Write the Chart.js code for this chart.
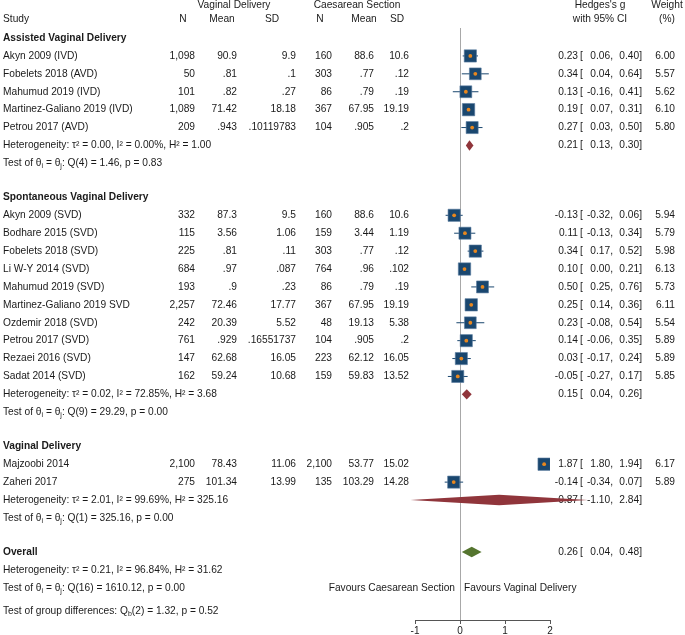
<!DOCTYPE html>
<html>
<head>
<meta charset="utf-8">
<script src="https://cdn.jsdelivr.net/npm/chart.js@4.4.1/dist/chart.umd.min.js"></script>
<style>
  body { margin: 0; background: #fff; }
  canvas { display: block; }
</style>
</head>
<body>
<canvas id="forest" width="685" height="635"></canvas>
<script>
// study level data
const studies = [
  'Akyn 2009 (IVD)', 'Fobelets 2018 (AVD)', 'Mahumud 2019 (IVD)', 'Martinez-Galiano 2019 (IVD)', 'Petrou 2017 (AVD)',
  'Akyn 2009 (SVD)', 'Bodhare 2015 (SVD)', 'Fobelets 2018 (SVD)', 'Li W-Y 2014 (SVD)', 'Mahumud 2019 (SVD)',
  'Martinez-Galiano 2019 SVD', 'Ozdemir 2018 (SVD)', 'Petrou 2017 (SVD)', 'Rezaei 2016 (SVD)', 'Sadat 2014 (SVD)',
  'Majzoobi 2014', 'Zaheri 2017'
];
const studyGroup = [0, 0, 0, 0, 0, 1, 1, 1, 1, 1, 1, 1, 1, 1, 1, 2, 2];

const vdN    = [1098, 50, 101, 1089, 209, 332, 115, 225, 684, 193, 2257, 242, 761, 147, 162, 2100, 275];
const vdMean = [90.9, 0.81, 0.82, 71.42, 0.943, 87.3, 3.56, 0.81, 0.97, 0.9, 72.46, 20.39, 0.929, 62.68, 59.24, 78.43, 101.34];
const vdSD   = [9.9, 0.1, 0.27, 18.18, 0.10119783, 9.5, 1.06, 0.11, 0.087, 0.23, 17.77, 5.52, 0.16551737, 16.05, 10.68, 11.06, 13.99];
const csN    = [160, 303, 86, 367, 104, 160, 159, 303, 764, 86, 367, 48, 104, 223, 159, 2100, 135];
const csMean = [88.6, 0.77, 0.79, 67.95, 0.905, 88.6, 3.44, 0.77, 0.96, 0.79, 67.95, 19.13, 0.905, 62.12, 59.83, 53.77, 103.29];
const csSD   = [10.6, 0.12, 0.19, 19.19, 0.2, 10.6, 1.19, 0.12, 0.102, 0.19, 19.19, 5.38, 0.2, 16.05, 13.52, 15.02, 14.28];

const hedgesG = [0.23, 0.34, 0.13, 0.19, 0.27, -0.13, 0.11, 0.34, 0.10, 0.50, 0.25, 0.23, 0.14, 0.03, -0.05, 1.87, -0.14];
const ciLow   = [0.06, 0.04, -0.16, 0.07, 0.03, -0.32, -0.13, 0.17, 0.00, 0.25, 0.14, -0.08, -0.06, -0.17, -0.27, 1.80, -0.34];
const ciHigh  = [0.40, 0.64, 0.41, 0.31, 0.50, 0.06, 0.34, 0.52, 0.21, 0.76, 0.36, 0.54, 0.35, 0.24, 0.17, 1.94, 0.07];
const weights = [6.00, 5.57, 5.62, 6.10, 5.80, 5.94, 5.79, 5.98, 6.13, 5.73, 6.11, 5.54, 5.89, 5.89, 5.85, 6.17, 5.89];

// subgroup summaries
const groupNames = ['Assisted Vaginal Delivery', 'Spontaneous Vaginal Delivery', 'Vaginal Delivery'];
const groupG    = [0.21, 0.15, 0.87];
const groupLow  = [0.13, 0.04, -1.10];
const groupHigh = [0.30, 0.26, 2.84];
const groupTau2 = ['0.00', '0.02', '2.01'];
const groupI2   = ['0.00', '72.85', '99.69'];
const groupH2   = ['1.00', '3.68', '325.16'];
const groupQdf  = [4, 9, 1];
const groupQ    = ['1.46', '29.29', '325.16'];
const groupP    = ['0.83', '0.00', '0.00'];

// overall
const overallG = 0.26, overallLow = 0.04, overallHigh = 0.48;
const overallHet = ['0.21', '96.84', '31.62'];
const overallTest = [16, '1610.12', '0.00'];
const groupDiff = [2, '1.32', '0.52'];

const xTicks = [-1, 0, 1, 2];

// row layout (in row units, 1 row = one table line)
const studyRow = [], hetRow = [], testRow = [], headRow = [];
let r = -1;
groupNames.forEach((name, gi) => {
  headRow[gi] = r;
  studies.forEach((s, i) => { if (studyGroup[i] === gi) { r += 1; studyRow[i] = r; } });
  r += 1; hetRow[gi] = r;
  r += 1; testRow[gi] = r;
  r += 1.9;
});
const overallRow = r, overallHetRow = r + 1, overallTestRow = r + 2, diffRow = r + 3.3;

const FONT = '"Liberation Sans", Arial, Helvetica, sans-serif';
const TXT = '#1a1a1a';
const NAVY = '#1a476f';
const ORANGE = '#e8871e';
const COL = { study: 3, vdN: 195, vdMean: 237, vdSD: 296, csN: 332, csMean: 374, csSD: 409,
  est: 578, brk: 580, lo: 613, hi: 642, wt: 675 };

const fmtNum = v => String(v).replace(/^0\./, '.');
const fmtN = v => v.toLocaleString('en-US');

function txt(ctx, s, x, y, align, bold) {
  ctx.font = (bold ? 'bold ' : '') + '10.2px ' + FONT;
  ctx.textAlign = align || 'left';
  ctx.fillText(s, x, y);
}

// left aligned text with {sub:'i'} parts as subscripts
function rich(ctx, parts, x, y) {
  ctx.textAlign = 'left';
  let cx = x;
  parts.forEach(p => {
    const isSub = typeof p !== 'string';
    const t = isSub ? p.sub : p;
    ctx.font = (isSub ? '7px ' : '10.2px ') + FONT;
    ctx.fillText(t, cx, isSub ? y + 3 : y);
    cx += ctx.measureText(t).width;
  });
}

function ciText(ctx, est, lo, hi, y) {
  txt(ctx, est.toFixed(2), COL.est, y, 'right');
  txt(ctx, '[', COL.brk, y, 'left');
  txt(ctx, lo.toFixed(2) + ',', COL.lo, y, 'right');
  txt(ctx, hi.toFixed(2) + ']', COL.hi, y, 'right');
}

const tablePlugin = {
  id: 'tablePlugin',
  beforeDatasetsDraw(chart) {
    const ctx = chart.ctx, y = chart.scales.y, x = chart.scales.x;
    ctx.save();
    ctx.fillStyle = TXT;
    ctx.textBaseline = 'middle';

    let py = y.getPixelForValue(-2.85);
    txt(ctx, 'Vaginal Delivery', 234, py, 'center');
    txt(ctx, 'Caesarean Section', 357, py, 'center');
    txt(ctx, "Hedges's g", 600, py, 'center');
    txt(ctx, 'Weight', 667, py, 'center');
    py = y.getPixelForValue(-2.07);
    txt(ctx, 'Study', COL.study, py);
    txt(ctx, 'N', 183, py, 'center');
    txt(ctx, 'Mean', 222, py, 'center');
    txt(ctx, 'SD', 272, py, 'center');
    txt(ctx, 'N', 320, py, 'center');
    txt(ctx, 'Mean', 364, py, 'center');
    txt(ctx, 'SD', 397, py, 'center');
    txt(ctx, 'with 95% CI', 600, py, 'center');
    txt(ctx, '(%)', 667, py, 'center');

    groupNames.forEach((name, gi) => {
      txt(ctx, name, COL.study, y.getPixelForValue(headRow[gi]), 'left', true);
      const hy = y.getPixelForValue(hetRow[gi]);
      txt(ctx, 'Heterogeneity: \u03c4\u00b2 = ' + groupTau2[gi] + ', I\u00b2 = ' + groupI2[gi] +
        '%, H\u00b2 = ' + groupH2[gi], COL.study, hy);
      ciText(ctx, groupG[gi], groupLow[gi], groupHigh[gi], hy);
      rich(ctx, ['Test of \u03b8', { sub: 'i' }, ' = \u03b8', { sub: 'j' },
        ': Q(' + groupQdf[gi] + ') = ' + groupQ[gi] + ', p = ' + groupP[gi]],
        COL.study, y.getPixelForValue(testRow[gi]));
    });

    studies.forEach((s, i) => {
      const sy = y.getPixelForValue(studyRow[i]);
      txt(ctx, s, COL.study, sy);
      txt(ctx, fmtN(vdN[i]), COL.vdN, sy, 'right');
      txt(ctx, fmtNum(vdMean[i]), COL.vdMean, sy, 'right');
      txt(ctx, fmtNum(vdSD[i]), COL.vdSD, sy, 'right');
      txt(ctx, fmtN(csN[i]), COL.csN, sy, 'right');
      txt(ctx, fmtNum(csMean[i]), COL.csMean, sy, 'right');
      txt(ctx, fmtNum(csSD[i]), COL.csSD, sy, 'right');
      ciText(ctx, hedgesG[i], ciLow[i], ciHigh[i], sy);
      txt(ctx, weights[i].toFixed(2), COL.wt, sy, 'right');
    });

    const oy = y.getPixelForValue(overallRow);
    txt(ctx, 'Overall', COL.study, oy, 'left', true);
    ciText(ctx, overallG, overallLow, overallHigh, oy);
    txt(ctx, 'Heterogeneity: \u03c4\u00b2 = ' + overallHet[0] + ', I\u00b2 = ' + overallHet[1] +
      '%, H\u00b2 = ' + overallHet[2], COL.study, y.getPixelForValue(overallHetRow));
    const ty = y.getPixelForValue(overallTestRow);
    rich(ctx, ['Test of \u03b8', { sub: 'i' }, ' = \u03b8', { sub: 'j' },
      ': Q(' + overallTest[0] + ') = ' + overallTest[1] + ', p = ' + overallTest[2]], COL.study, ty);
    rich(ctx, ['Test of group differences: Q', { sub: 'b' },
      '(' + groupDiff[0] + ') = ' + groupDiff[1] + ', p = ' + groupDiff[2]], COL.study, y.getPixelForValue(diffRow));

    const zx = x.getPixelForValue(0);
    txt(ctx, 'Favours Caesarean Section', zx - 5, ty, 'right');
    txt(ctx, 'Favours Vaginal Delivery', zx + 4, ty, 'left');
    ctx.restore();
  }
};

function diamond(chart, est, lo, hi, row, color) {
  const ctx = chart.ctx, x = chart.scales.x, y = chart.scales.y;
  const yc = y.getPixelForValue(row), h = y.getPixelForValue(row + 0.29) - yc;
  ctx.beginPath();
  ctx.moveTo(x.getPixelForValue(lo), yc);
  ctx.lineTo(x.getPixelForValue(est), yc - h);
  ctx.lineTo(x.getPixelForValue(hi), yc);
  ctx.lineTo(x.getPixelForValue(est), yc + h);
  ctx.closePath();
  ctx.fillStyle = color;
  ctx.fill();
}

const diamondPlugin = {
  id: 'diamondPlugin',
  afterDatasetsDraw(chart) {
    chart.ctx.save();
    groupNames.forEach((n, gi) => diamond(chart, groupG[gi], groupLow[gi], groupHigh[gi], hetRow[gi], '#90353b'));
    diamond(chart, overallG, overallLow, overallHigh, overallRow, '#55752f');
    chart.ctx.restore();
  }
};

const points = studies.map((s, i) => ({ x: hedgesG[i], y: studyRow[i] }));
const ciLines = [];
studies.forEach((s, i) => {
  ciLines.push({ x: ciLow[i], y: studyRow[i] }, { x: ciHigh[i], y: studyRow[i] }, { x: null, y: null });
});

new Chart(document.getElementById('forest'), {
  type: 'scatter',
  data: {
    datasets: [
      {
        data: points,
        pointStyle: 'circle',
        pointRadius: 1.9,
        backgroundColor: ORANGE,
        borderWidth: 0,
        order: 0
      },
      {
        data: points,
        pointStyle: 'rect',
        pointRadius: ctx => 5.0 * Math.sqrt(weights[ctx.dataIndex]) / Math.SQRT2,
        backgroundColor: NAVY,
        borderColor: '#5b7ca0',
        borderWidth: 0.6,
        order: 1
      },
      {
        type: 'line',
        data: ciLines,
        borderColor: NAVY,
        borderWidth: 1,
        pointRadius: 0,
        spanGaps: false,
        fill: false,
        order: 2
      }
    ]
  },
  options: {
    responsive: false,
    animation: false,
    layout: { padding: { left: 415, right: 135, top: 28, bottom: 0 } },
    plugins: { legend: { display: false }, tooltip: { enabled: false } },
    scales: {
      x: {
        type: 'linear',
        min: -1,
        max: 2,
        afterBuildTicks: s => { s.ticks = xTicks.map(v => ({ value: v })); },
        afterFit: s => { s.height = 15; },
        grid: {
          color: c => (c.tick && c.tick.value === 0 ? '#a8a8a8' : 'rgba(0,0,0,0)'),
          tickColor: '#555',
          tickLength: 4,
          lineWidth: 1
        },
        border: { display: true, color: '#555', width: 1 },
        ticks: { color: TXT, font: { family: FONT, size: 10 }, padding: 1, maxRotation: 0 }
      },
      y: {
        type: 'linear',
        display: false,
        reverse: true,
        min: -1.56,
        max: 31.5
      }
    }
  },
  plugins: [tablePlugin, diamondPlugin]
});
</script>
</body>
</html>
